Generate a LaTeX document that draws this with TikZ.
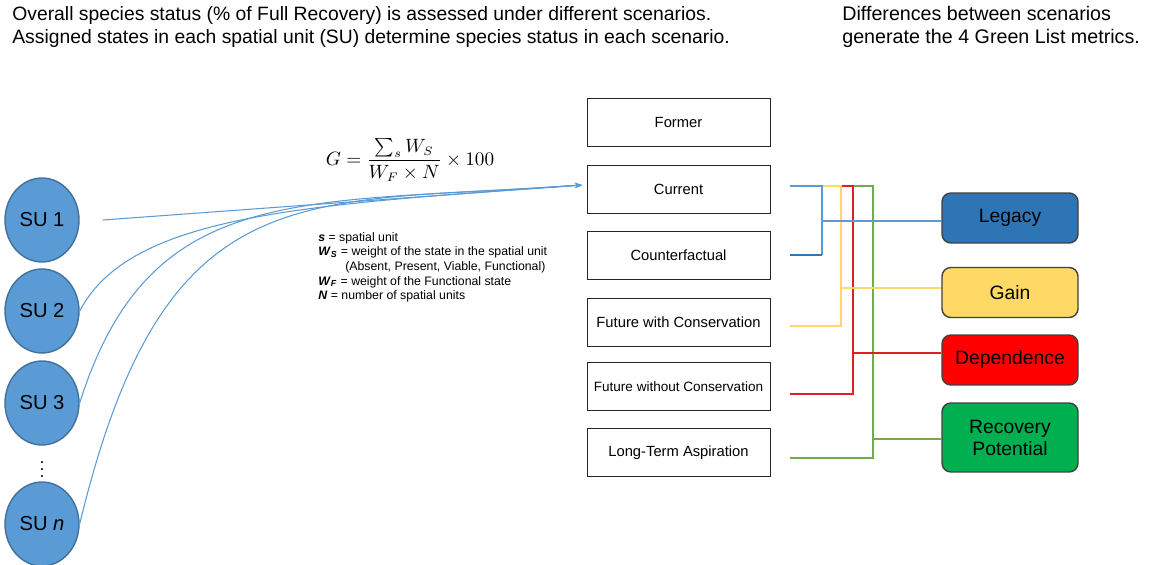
\documentclass[tikz,border=0pt]{standalone}
\usepackage{fontspec}
\setmainfont{Liberation Sans}
\usepackage{amsmath}
\usepackage{amssymb}
\usepackage{xcolor}
\usetikzlibrary{shapes.geometric,arrows.meta}

\definecolor{sufill}{HTML}{5B9BD5}
\definecolor{sudraw}{HTML}{41719C}
\definecolor{legfill}{HTML}{2E75B6}
\definecolor{gainfill}{HTML}{FFD966}
\definecolor{depfill}{HTML}{FF0000}
\definecolor{recfill}{HTML}{00B050}
\definecolor{grnline}{HTML}{70AD47}
\definecolor{redline}{HTML}{E02020}

\begin{document}
\begin{tikzpicture}[x=0.02cm,y=-0.02cm,
    su/.style={ellipse,draw=sudraw,fill=sufill,line width=0.8pt,inner sep=0pt,minimum width=1.48cm,minimum height=1.68cm,font=\fontsize{11.5}{13}\selectfont},
    scen/.style={rectangle,draw=black!85,line width=0.5pt,inner xsep=1pt,minimum width=3.66cm,minimum height=0.96cm,font=\fontsize{8.4}{10}\selectfont},
    metric/.style={rectangle,rounded corners=5pt,draw=black!75,line width=0.8pt,minimum width=2.72cm,minimum height=1cm,align=center,font=\fontsize{11}{12.5}\selectfont},
    link/.style={sufill,line width=0.6pt,-{Stealth[length=4pt,width=3pt]}},
    wire/.style={line width=0.7pt}]
            \useasboundingbox (0,0) rectangle (1155,564);

            % headings
            \node (title) at (12,6) [anchor=north west,inner sep=0pt,align=left,font=\fontsize{11}{13}\selectfont]
            {Overall species status (\% of Full Recovery) is assessed under different scenarios.\\
             Assigned states in each spatial unit (SU) determine species status in each scenario.};
            \node (mtitle) at (842,6) [anchor=north west,inner sep=0pt,align=left,font=\fontsize{11.2}{13}\selectfont]
            {Differences between scenarios\\generate the 4 Green List metrics.};

            % spatial units
            \node (su1) at (42,220) [su] {SU 1};
            \node (su2) at (42,311) [su] {SU 2};
            \node (su3) at (42,403) [su] {SU 3};
            \node (dots) at (42,464) {$\vdots$};
            \node (sun) at (42,524) [su] {SU \textit{n}};

            % formula and legend
            \node (formula) at (410,160) [font=\fontsize{10.5}{12.5}\selectfont]
            {$\displaystyle G = \frac{\sum_{s} W_S}{W_F\times N}\times 100$};
            \node (key) at (318,232) [anchor=north west,inner sep=0pt,align=left,font=\fontsize{7}{8.3}\selectfont]
            {\textbf{\textit{s}} = spatial unit\\
             \textbf{\textit{W}}\textsubscript{\textbf{\textit{S}}} = weight of the state in the spatial unit\\
             \hspace*{0.54cm}(Absent, Present, Viable, Functional)\\
             \textbf{\textit{W}}\textsubscript{\textbf{\textit{F}}} = weight of the Functional state\\
             \textbf{\textit{N}} = number of spatial units};

            % scenarios
            \node (frm) at (678.5,122) [scen] {Former};
            \node (cur) at (678.5,189) [scen] {Current};
            \node (cnt) at (678.5,255.5) [scen] {Counterfactual};
            \node (fwc) at (678.5,322) [scen] {Future with Conservation};
            \node (fwo) at (678.5,386.5) [scen,font=\fontsize{7.7}{9}\selectfont] {Future without Conservation};
            \node (lta) at (678.5,452.5) [scen] {Long-Term Aspiration};

            % metrics
            \node (leg) at (1010,218) [metric,fill=legfill] {Legacy};
            \node (gain) at (1010,292.5) [metric,fill=gainfill] {Gain};
            \node (dep) at (1010,360) [metric,fill=depfill] {Dependence};
            \node (rec) at (1010,437.5) [metric,fill=recfill,minimum height=1.38cm] {Recovery\\Potential};

            % SU to scenario
            \coordinate (hub) at (582,185);
            \draw[link] ([xshift=0.46cm]su1.east) -- (hub);
            \draw[link] (su2.east) .. controls (130,215) and (300,205) .. (hub);
            \draw[link] (su3.east) .. controls (150,180) and (300,205) .. (hub);
            \draw[link] (sun.east) .. controls (165,170) and (300,205) .. (hub);

            % scenario to metrics
            \coordinate (ocur) at (790,186);
            \coordinate (ocnt) at (790,255);
            \coordinate (ofwc) at (790,326);
            \coordinate (ofwo) at (790,394);
            \coordinate (olta) at (790,458);
            \draw[wire,grnline] (ocur) -| (873,458) -- (olta) (873,439) -- (rec.west |- 0,439);
            \draw[wire,redline] (ocur) -| (853,394) -- (ofwo) (853,353) -- (dep.west |- 0,353);
            \draw[wire,gainfill] (ocur) -| (841,326) -- (ofwc) (841,288) -- (gain.west |- 0,288);
            \draw[wire,sufill] (ocur) -| (822,255) (822,221) -- (leg.west |- 0,221);
            \draw[wire,legfill] (822,255) -- (ocnt);

        \end{tikzpicture}
\end{document}
